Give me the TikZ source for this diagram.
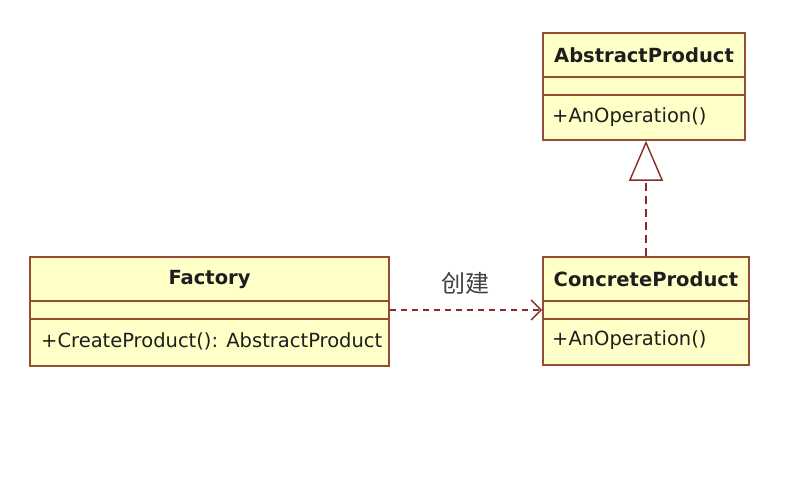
\documentclass[tikz,border=0pt]{standalone}
\usepackage{fontspec}
\setmainfont{DejaVu Sans}
\newfontfamily\cjk{Noto Sans CJK SC}
\usetikzlibrary{arrows.meta}
\definecolor{umlfill}{RGB}{255,255,200}
\definecolor{umlborder}{RGB}{150,75,55}
\definecolor{umlline}{RGB}{135,45,40}
\definecolor{umltext}{RGB}{30,30,30}
\tikzset{
  classbox/.style={draw=umlborder, fill=umlfill, line width=1.6pt, inner sep=0pt},
  sepline/.style={draw=umlborder, line width=1.6pt},
  cname/.style={font=\bfseries\fontsize{19.5}{22}\selectfont, text=umltext, inner sep=0pt},
  cop/.style={font=\fontsize{19.5}{22}\selectfont, text=umltext, inner sep=0pt, anchor=west},
  deplink/.style={draw=umlline, line width=1.4pt, dash pattern=on 6pt off 5pt},
}
\begin{document}
\begin{tikzpicture}[x=1pt,y=-1pt]
\useasboundingbox (0,0) rectangle (806,488);
% Factory
\node[classbox, minimum width=359pt, minimum height=109pt] (factory) at (209.5,311.5) {};
\draw[sepline] (30,301) -- (389,301);
\draw[sepline] (30,319) -- (389,319);
\node[cname] (factoryname) at (209.5,279) {Factory};
\node[cop] (factoryop) at (41,341) {+CreateProduct(): AbstractProduct};
% ConcreteProduct
\node[classbox, minimum width=206pt, minimum height=108pt] (concrete) at (646,311) {};
\draw[sepline] (543,301) -- (749,301);
\draw[sepline] (543,319) -- (749,319);
\node[cname] (concretename) at (646,279) {ConcreteProduct};
\node[cop] (concreteop) at (552,340) {+AnOperation()};
% AbstractProduct
\node[classbox, minimum width=202pt, minimum height=107pt] (abstract) at (644,86.5) {};
\draw[sepline] (543,77) -- (745,77);
\draw[sepline] (543,95) -- (745,95);
\node[cname] (abstractname) at (644,55) {AbstractProduct};
\node[cop] (abstractop) at (552,117) {+AnOperation()};
% Realization
\draw[deplink, dash pattern=on 8pt off 5pt, -{Triangle[open, length=40pt, width=34pt, fill=white, line width=1.4pt]}]
  (concrete.north) -- (concrete.north |- abstract.south);
% Dependency
\draw[deplink, -{Straight Barb[length=10pt, width=20pt, line width=1.4pt]}]
  (factory.east |- 0,310) -- (concrete.west |- 0,310);
\node[font=\cjk\fontsize{24}{28}\selectfont, text=black!75] (label) at (465,283) {创建};
\end{tikzpicture}
\end{document}
